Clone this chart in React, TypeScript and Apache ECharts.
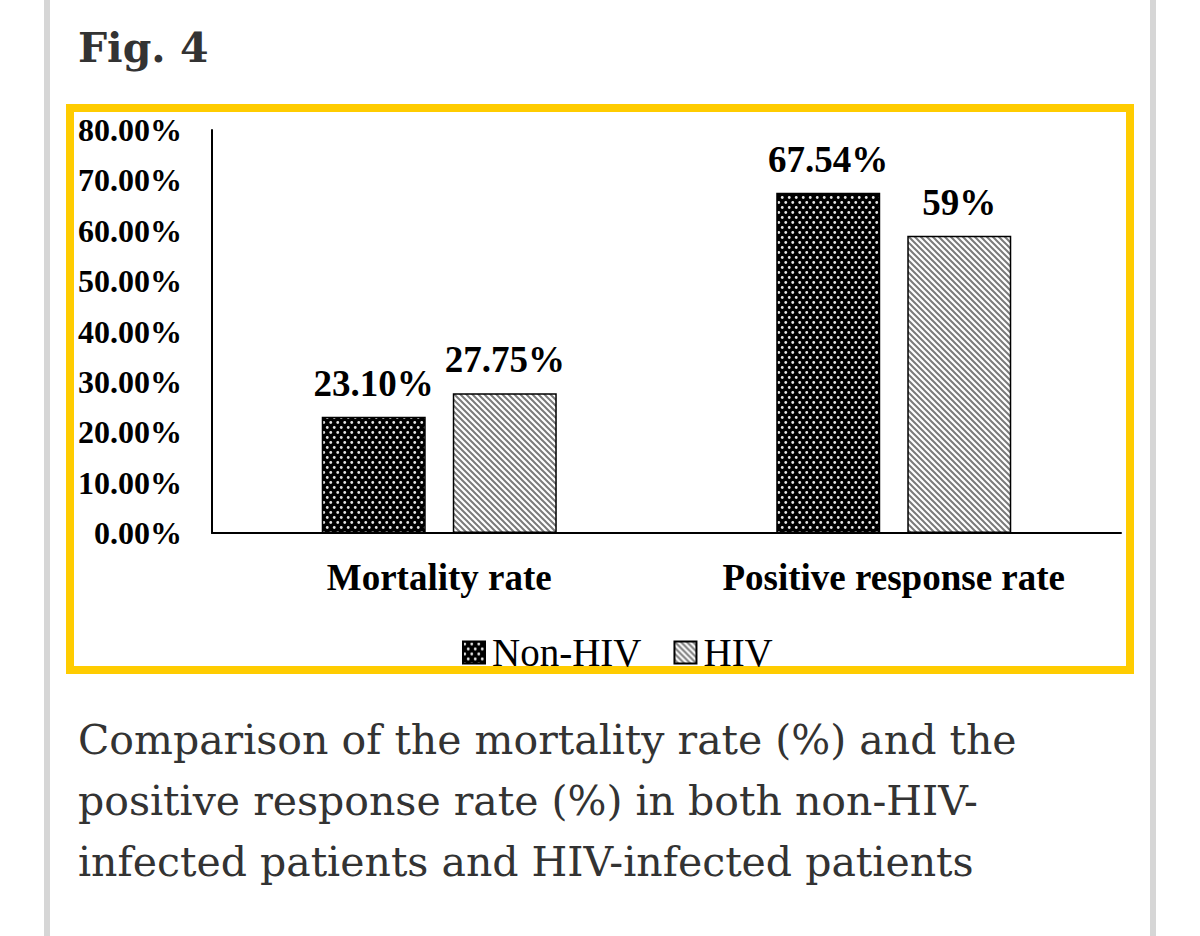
import React, { useEffect, useRef } from 'react';
import * as echarts from 'echarts';

const categories = ['Mortality rate', 'Positive response rate'];
const nonHivValues = [23.1, 67.54];
const hivValues = [27.75, 59];
const nonHivLabels = ['23.10%', '67.54%'];
const hivLabels = ['27.75%', '59%'];
const seriesNames = ['Non-HIV', 'HIV'];

const captionLines = [
	'Comparison of the mortality rate (%) and the',
	'positive response rate (%) in both non-HIV-',
	'infected patients and HIV-infected patients'
];

const svgUrl = (svg: string) => 'data:image/svg+xml;charset=utf-8,' + encodeURIComponent(svg);

// black with light dots, staggered rows
const dotTile = svgUrl(
	"<svg xmlns='http://www.w3.org/2000/svg' width='7' height='10'>" +
		"<rect width='7' height='10' fill='#000'/>" +
		"<circle cx='1.75' cy='2.5' r='1.4' fill='#e6e6e6'/>" +
		"<circle cx='5.25' cy='7.5' r='1.4' fill='#e6e6e6'/>" +
		'</svg>'
);

// white with grey diagonal hatching (\ direction)
const hatchTile = svgUrl(
	"<svg xmlns='http://www.w3.org/2000/svg' width='6' height='6'>" +
		"<rect width='6' height='6' fill='#fff'/>" +
		"<path d='M-1,-1 L7,7 M-1,5 L1,7 M5,-1 L7,1' stroke='#7a7a7a' stroke-width='2'/>" +
		'</svg>'
);

const FONT = '"Liberation Serif", "Times New Roman", serif';

const App: React.FC = () => {
	const chartRef = useRef<HTMLDivElement>(null);

	useEffect(() => {
		document.body.style.margin = '0';
		if (!chartRef.current) return;
		const chart = echarts.init(chartRef.current, undefined, { renderer: 'svg' });

		const labelStyle = {
			show: true,
			position: 'top' as const,
			distance: 15,
			color: '#000',
			fontFamily: FONT,
			fontWeight: 'bold' as const,
			fontSize: 37
		};

		const option: echarts.EChartsOption = {
			animation: false,
			backgroundColor: '#fff',
			graphic: [
				{ type: 'rect', shape: { x: 44, y: 0, width: 6, height: 936 }, style: { fill: '#d6d6d6' }, silent: true },
				{ type: 'rect', shape: { x: 1150, y: 0, width: 6, height: 936 }, style: { fill: '#d6d6d6' }, silent: true },
				{
					type: 'rect',
					shape: { x: 70, y: 108, width: 1060, height: 562 },
					style: { fill: 'none', stroke: '#ffcc00', lineWidth: 8 },
					silent: true
				},
				{
					type: 'text',
					x: 78,
					y: 27,
					style: {
						text: 'Fig. 4',
						fill: '#333',
						fontFamily: '"DejaVu Serif", serif',
						fontWeight: 'bold',
						fontSize: 41,
						align: 'left',
						verticalAlign: 'top'
					}
				},
				{
					type: 'text',
					x: 78,
					y: 709,
					style: {
						text: captionLines.join('\n'),
						fill: '#333',
						fontFamily: '"DejaVu Serif", serif',
						fontSize: 41,
						lineHeight: 61,
						align: 'left',
						verticalAlign: 'top'
					}
				}
			],
			legend: {
				data: seriesNames,
				left: 457,
				top: 628,
				icon: 'rect',
				itemWidth: 22,
				itemHeight: 22,
				itemGap: 32,
				textStyle: {
					color: '#000',
					fontFamily: FONT,
					fontSize: 39,
					padding: [0, 0, 0, 2]
				}
			},
			grid: {
				left: 212,
				right: 79,
				top: 130,
				bottom: 403
			},
			xAxis: {
				type: 'category',
				data: categories,
				axisLine: { lineStyle: { color: '#000', width: 2 } },
				axisTick: { show: false },
				axisLabel: {
					color: '#000',
					fontFamily: FONT,
					fontWeight: 'bold',
					fontSize: 37,
					margin: 26
				}
			},
			yAxis: {
				type: 'value',
				min: 0,
				max: 80,
				interval: 10,
				axisLine: { show: true, lineStyle: { color: '#000', width: 2 } },
				axisTick: { show: false },
				splitLine: { show: false },
				axisLabel: {
					color: '#000',
					fontFamily: FONT,
					fontWeight: 'bold',
					fontSize: 32,
					margin: 30,
					formatter: (v: number) => `${v.toFixed(2)}%`
				}
			},
			series: [
				{
					name: seriesNames[0],
					type: 'bar',
					data: nonHivValues,
					barWidth: 104,
					barGap: '26%',
					itemStyle: {
						color: { image: dotTile, repeat: 'repeat', imageWidth: 7, imageHeight: 10 } as any,
						borderColor: '#000',
						borderWidth: 1.5
					},
					label: { ...labelStyle, formatter: (p: any) => nonHivLabels[p.dataIndex] }
				},
				{
					name: seriesNames[1],
					type: 'bar',
					data: hivValues,
					barWidth: 104,
					itemStyle: {
						color: { image: hatchTile, repeat: 'repeat', imageWidth: 6, imageHeight: 6 } as any,
						borderColor: '#000',
						borderWidth: 1.5
					},
					label: { ...labelStyle, formatter: (p: any) => hivLabels[p.dataIndex] }
				}
			]
		};

		chart.setOption(option);

		return () => {
			chart.dispose();
		};
	}, []);

	return <div ref={chartRef} style={{ width: 1200, height: 936 }} />;
};

export default App;
